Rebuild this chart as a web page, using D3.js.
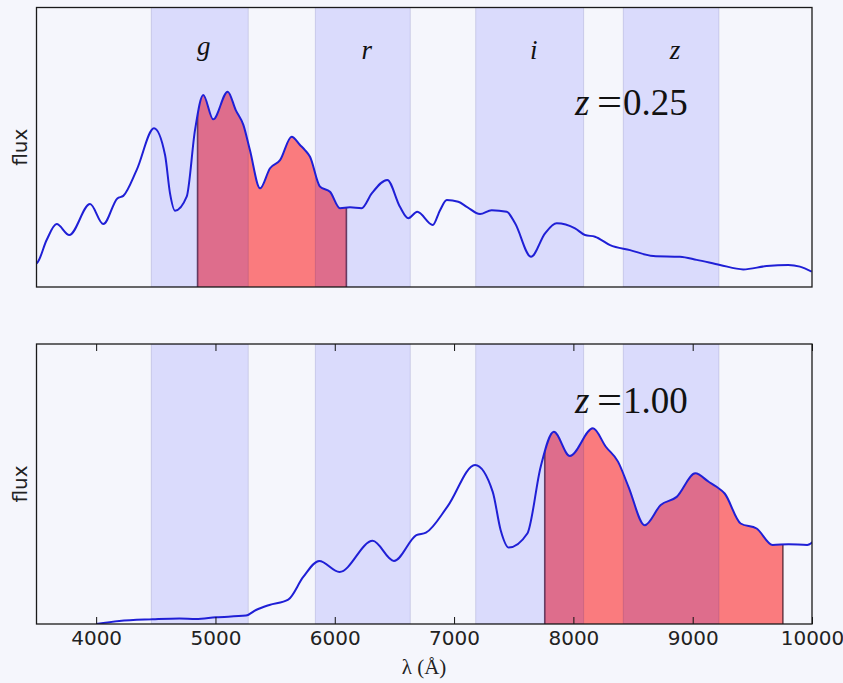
<!DOCTYPE html>
<html>
<head>
<meta charset="utf-8">
<script src="https://cdn.jsdelivr.net/npm/d3@7"></script>
<style>
  html, body { margin: 0; padding: 0; background: #f5f6fc; }
  svg { display: block; }
</style>
</head>
<body>
<div id="chart"></div>
<script>
// ---------------- data ----------------
// rest-frame spectrum (Angstrom) and normalized flux
const restWave = [2000, 2097, 2237, 2349, 2418, 2502, 2628, 2670, 2726, 2805, 2868,
  2935, 3020, 3159, 3248, 3342, 3382, 3472, 3588, 3662, 3695, 3729, 3807, 3863,
  3918, 3985, 4082, 4136, 4187, 4231, 4299, 4366, 4433, 4511, 4567, 4600, 4634,
  4701, 4768, 4835, 4902, 4980, 5048, 5152, 5237, 5293, 5353, 5457, 5506, 5551,
  5628, 5685, 5774, 5852, 5953, 6009, 6116, 6210, 6288, 6411, 6478, 6545, 6646,
  6780, 6936, 7115, 7227, 7383, 7539, 7696, 7841, 7919, 7998];
const restFlux = [0.000, 0.011, 0.017, 0.020, 0.018, 0.024, 0.030, 0.050, 0.068, 0.087, 0.168,
  0.225, 0.186, 0.297, 0.225, 0.317, 0.326, 0.419, 0.568, 0.472, 0.336, 0.273, 0.323, 0.562,
  0.687, 0.600, 0.699, 0.633, 0.580, 0.490, 0.353, 0.425, 0.454, 0.538, 0.508, 0.490, 0.466,
  0.359, 0.341, 0.282, 0.285, 0.282, 0.335, 0.383, 0.287, 0.246, 0.269, 0.222, 0.275, 0.311,
  0.305, 0.287, 0.261, 0.275, 0.269, 0.228, 0.108, 0.192, 0.228, 0.210, 0.186, 0.180, 0.150,
  0.132, 0.111, 0.108, 0.097, 0.079, 0.063, 0.075, 0.079, 0.073, 0.055];
const redshifts = [0.25, 1.00];
const fillRestRange = [3880, 4878];          // shaded rest-frame region
const bandNames = ["g", "r", "i", "z"];
const bandStart = [4462, 5837, 7181, 8418];
const bandEnd   = [5275, 6633, 8086, 9220];
const xTicks = [4000, 5000, 6000, 7000, 8000, 9000, 10000];
const xDomain = [3500, 10000];
const yDomain = [0, 1];

// ---------------- layout ----------------
const W = 843, H = 683;
const left = 36.5, right = 812;
const panels = [
  { top: 7.5, bottom: 287, showBandLabels: true, showTicks: false, zLabelY: 115 },
  { top: 344, bottom: 624, showBandLabels: false, showTicks: true, zLabelY: 413 }
];

const svg = d3.select("#chart").append("svg")
  .attr("width", W).attr("height", H)
  .style("background", "#f5f6fc");

const x = d3.scaleLinear().domain(xDomain).range([left, right]);
const defs = svg.append("defs");

panels.forEach((p, pi) => {
  const z = redshifts[pi];
  const y = d3.scaleLinear().domain(yDomain).range([p.bottom, p.top]);
  const pts = restWave.map((w, i) => ({ w: w * (1 + z), f: restFlux[i] }));

  const g = svg.append("g");

  // axes clip
  const clipId = "clip" + pi;
  defs.append("clipPath").attr("id", clipId).append("rect")
    .attr("x", left).attr("y", p.top)
    .attr("width", right - left).attr("height", p.bottom - p.top);

  const curve = d3.curveMonotoneX;
  const area = d3.area().x(d => x(d.w)).y0(y(0)).y1(d => y(d.f)).curve(curve);
  const line = d3.line().x(d => x(d.w)).y(d => y(d.f)).curve(curve);

  // area clip for the red fill
  const areaClipId = "areaclip" + pi;
  defs.append("clipPath").attr("id", areaClipId).append("path").attr("d", area(pts));

  const plot = g.append("g").attr("clip-path", `url(#${clipId})`);

  // red filled region
  const f0 = x(fillRestRange[0] * (1 + z)), f1 = x(fillRestRange[1] * (1 + z));
  const fillG = plot.append("g").attr("clip-path", `url(#${areaClipId})`);
  fillG.append("rect")
    .attr("x", f0).attr("y", p.top)
    .attr("width", f1 - f0).attr("height", p.bottom - p.top)
    .attr("fill", "rgba(255,0,0,0.5)");
  [f0, f1].forEach(fx => {
    fillG.append("line")
      .attr("x1", fx).attr("x2", fx).attr("y1", p.top).attr("y2", p.bottom)
      .attr("stroke", "rgba(70,25,40,0.75)").attr("stroke-width", 1.6);
  });

  // filter bands
  plot.selectAll("rect.band").data(bandNames).enter().append("rect")
    .attr("class", "band")
    .attr("x", (d, i) => x(bandStart[i]))
    .attr("y", p.top)
    .attr("width", (d, i) => x(bandEnd[i]) - x(bandStart[i]))
    .attr("height", p.bottom - p.top)
    .attr("fill", "rgba(0,0,255,0.11)")
    .attr("stroke", "rgba(0,0,90,0.12)")
    .attr("stroke-width", 1);

  // spectrum line
  plot.append("path")
    .attr("d", line(pts))
    .attr("fill", "none")
    .attr("stroke", "#1f1fd6")
    .attr("stroke-width", 2);

  // band labels
  if (p.showBandLabels) {
    g.selectAll("text.bandlabel").data(bandNames).enter().append("text")
      .attr("class", "bandlabel")
      .attr("x", (d, i) => (x(bandStart[i]) + x(bandEnd[i])) / 2 + 4)
      .attr("y", d => /[gjpqy]/.test(d) ? 55 : 59)
      .attr("text-anchor", "middle")
      .attr("font-family", "'Liberation Serif', 'DejaVu Serif', serif")
      .attr("font-style", "italic")
      .attr("font-size", 27)
      .attr("fill", "#111")
      .text(d => d);
  }

  // redshift label
  const zy = p.zLabelY;
  const zl = g.append("g").attr("font-family", "'Liberation Serif', 'DejaVu Serif', serif")
    .attr("font-size", 37).attr("fill", "#111");
  zl.append("text").attr("x", 575).attr("y", zy).attr("font-style", "italic").text("z");
  zl.append("text").attr("x", 597).attr("y", zy)
    .attr("textLength", 25).attr("lengthAdjust", "spacingAndGlyphs").text("=");
  zl.append("text").attr("x", 623).attr("y", zy).text(z.toFixed(2));

  // ticks
  if (p.showTicks) {
    const ax = g.append("g").attr("transform", `translate(0,${p.bottom})`)
      .call(d3.axisBottom(x).tickValues(xTicks).tickSize(-7).tickPadding(7).tickFormat(d3.format("d")));
    ax.select(".domain").remove();
    ax.selectAll("line").attr("stroke", "#111").attr("stroke-width", 1);
    ax.selectAll("text").attr("font-family", "'DejaVu Sans', sans-serif")
      .attr("font-size", 20).attr("fill", "#222");
    const axT = g.append("g").attr("transform", `translate(0,${p.top})`)
      .call(d3.axisTop(x).tickValues(xTicks).tickSize(-7).tickFormat(""));
    axT.select(".domain").remove();
    axT.selectAll("line").attr("stroke", "#111").attr("stroke-width", 1);
  }

  // frame
  g.append("rect")
    .attr("x", left).attr("y", p.top)
    .attr("width", right - left).attr("height", p.bottom - p.top)
    .attr("fill", "none").attr("stroke", "#1a1a1a").attr("stroke-width", 1.3);

  // y label
  g.append("text")
    .attr("transform", `translate(27,${(p.top + p.bottom) / 2}) rotate(-90)`)
    .attr("text-anchor", "middle")
    .attr("font-family", "'DejaVu Sans', sans-serif")
    .attr("font-size", 20).attr("fill", "#222")
    .text("flux");
});

// x label
svg.append("text")
  .attr("x", 424).attr("y", 674)
  .attr("text-anchor", "middle")
  .attr("font-family", "'Liberation Serif', 'DejaVu Serif', serif")
  .attr("font-size", 21).attr("fill", "#222")
  .text("λ (Å)");
</script>
</body>
</html>
